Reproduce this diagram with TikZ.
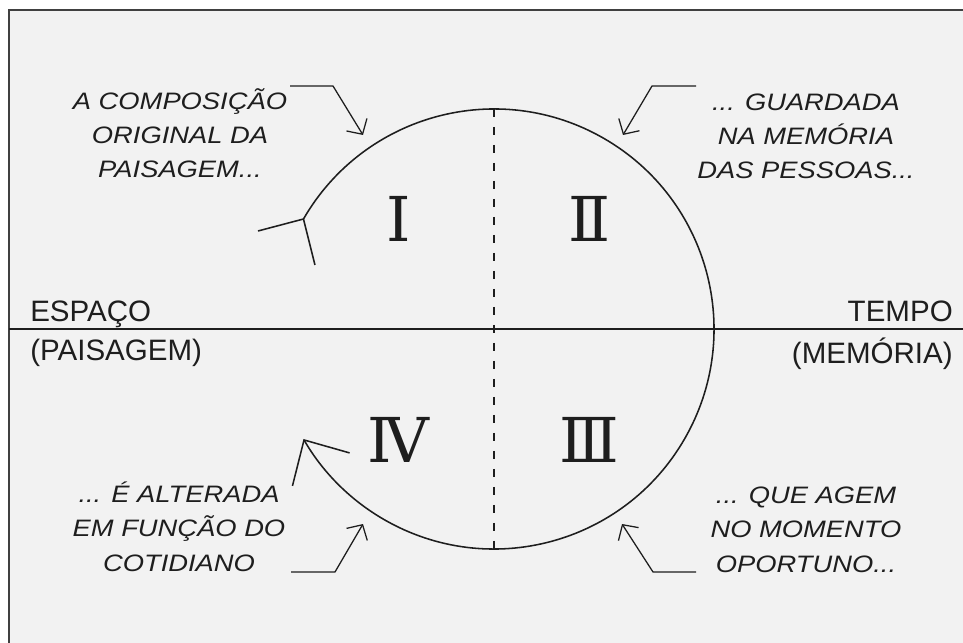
\documentclass[tikz,border=0pt]{standalone}
\usepackage{fontspec}
\setmainfont{Liberation Sans}
\newfontfamily\capfont[FakeStretch=1.15]{Liberation Sans}
\newfontfamily\numfont{DejaVu Serif}
\usetikzlibrary{arrows.meta,calc}
\definecolor{paper}{HTML}{F2F2F2}
\definecolor{ink}{HTML}{1E1E1E}
\definecolor{rim}{HTML}{404040}

\begin{document}
\begin{tikzpicture}[
		x=0.025cm, y=-0.025cm,
		every node/.style={inner sep=0pt, text=ink},
		caption/.style={align=center, anchor=base, font=\capfont\itshape\fontsize{16.9}{24.2}\selectfont},
		axislabel/.style={font=\fontsize{21}{24}\selectfont},
		numeral/.style={font=\numfont\fontsize{44}{44}\selectfont},
		pointer/.style={draw=ink, line width=0.9pt, -{Straight Barb[length=0.28cm, width=0.6cm]}}
	]
  \useasboundingbox (0,0) rectangle (963,643);
  \fill[paper] (9,10) rectangle (963,643);
  \draw[rim, line width=1.4pt] (9,643) -- (9,10) -- (963,10);

  \coordinate (centre) at (494,329);
  \coordinate (west) at (9,329);
  \coordinate (east) at (963,329);
  \coordinate (top) at (494,109);
  \coordinate (bottom) at (494,549);
  \draw[ink, line width=1pt] (west) -- (east);
  \draw[ink, line width=0.9pt, dash pattern=on 5.7pt off 7.1pt] (top) -- (bottom);

  \coordinate (tail) at ($(centre)+(210:220)$);
  \draw[ink, line width=1.1pt, -{Straight Barb[length=0.85cm, width=1.65cm]}]
    (tail) arc[start angle=210, end angle=510, radius=220];
  \draw[ink, line width=1.1pt] (tail) -- ++(-45.5,12);
  \draw[ink, line width=1.1pt] (tail) -- ++(11.5,46);

  \node (I) [numeral] at (398.5,218.5) {Ⅰ};
  \node (II) [numeral] at (589.5,218.5) {Ⅱ};
  \node (III) [numeral] at (589.5,439.5) {Ⅲ};
  \node (IV) [numeral] at (398.5,439.5) {Ⅳ};

  \node (espaco) [axislabel, anchor=base west] at (30,322) {ESPAÇO};
  \node (paisagem) [axislabel, anchor=base west] at (30,361) {(PAISAGEM)};
  \node (tempo) [axislabel, anchor=base east] at (953,322) {TEMPO};
  \node (memoria) [axislabel, anchor=base east] at (953,364) {(MEMÓRIA)};

  \node (q1) [caption] at (180,178) {A COMPOSIÇÃO\\ORIGINAL DA\\PAISAGEM...};
  \node (q2) [caption] at (806,179) {... GUARDADA\\NA MEMÓRIA\\DAS PESSOAS...};
  \node (q3) [caption] at (806,572) {... QUE AGEM\\NO MOMENTO\\OPORTUNO...};
  \node (q4) [caption] at (179,571) {... É ALTERADA\\EM FUNÇÃO DO\\COTIDIANO};

  \coordinate (p1) at (290,86);
  \coordinate (p2) at (696,86);
  \coordinate (p3) at (696,572);
  \coordinate (p4) at (291,572);
  \draw[pointer] (p1) -- ++(43,0) -- (363,135);
  \draw[pointer] (p2) -- ++(-44,0) -- (623,135);
  \draw[pointer] (p3) -- ++(-43,0) -- (622,524);
  \draw[pointer] (p4) -- ++(44,0) -- (363,524);
\end{tikzpicture}
\end{document}
